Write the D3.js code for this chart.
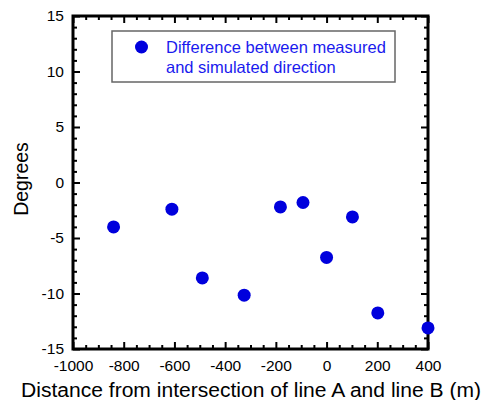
<!DOCTYPE html>
<html>
<head>
  <meta charset="utf-8">
  <style>
	body { margin: 0; background: white; }
	text { font-family: "Liberation Sans", Arial, sans-serif; }
  </style>
</head>
<body>
<div id="chart"></div>
<script src="https://d3js.org/d3.v7.min.js"></script>
<script>
	// distance from intersection (m) and angle difference (degrees)
	const distance = [-840, -610, -490, -325, -182, -93, 0, 102, 202, 400];
	const degrees = [-4.0, -2.4, -8.6, -10.15, -2.2, -1.8, -6.75, -3.1, -11.75, -13.1];
	const xTicks = [-1000, -800, -600, -400, -200, 0, 200, 400];
	const yTicks = [-15, -10, -5, 0, 5, 10, 15];
	const legendLines = ["Difference between measured", "and simulated direction"];

	const width = 484, height = 400;
	const margin = {left: 73, top: 16, right: 56, bottom: 51};

	const svg = d3.select('#chart').append('svg')
		.attr('width', width)
		.attr('height', height);

	const x = d3.scaleLinear().domain([-1000, 400]).range([margin.left, width - margin.right]);
	const y = d3.scaleLinear().domain([-15, 15]).range([height - margin.bottom, margin.top]);

	const minorX = d3.range(-1000, 401, 50).filter(v => v % 200 !== 0);
	const minorY = d3.range(-15, 16, 1).filter(v => v % 5 !== 0);
	const fmt = d => String(d);

	// axes with inward ticks
	const gBottom = svg.append('g').attr('transform', `translate(0,${y(-15)})`)
		.call(d3.axisBottom(x).tickValues(xTicks).tickSize(-7).tickPadding(11).tickFormat(fmt));
	gBottom.append('g').call(d3.axisBottom(x).tickValues(minorX).tickSize(-4).tickFormat(''));
	const gTop = svg.append('g').attr('transform', `translate(0,${y(15)})`)
		.call(d3.axisTop(x).tickValues(xTicks).tickSize(-7).tickFormat(''));
	gTop.append('g').call(d3.axisTop(x).tickValues(minorX).tickSize(-4).tickFormat(''));

	const gLeft = svg.append('g').attr('transform', `translate(${x(-1000)},0)`)
		.call(d3.axisLeft(y).tickValues(yTicks).tickSize(-7).tickPadding(9).tickFormat(fmt));
	gLeft.append('g').call(d3.axisLeft(y).tickValues(minorY).tickSize(-4).tickFormat(''));
	const gRight = svg.append('g').attr('transform', `translate(${x(400)},0)`)
		.call(d3.axisRight(y).tickValues(yTicks).tickSize(-7).tickFormat(''));
	gRight.append('g').call(d3.axisRight(y).tickValues(minorY).tickSize(-4).tickFormat(''));

	svg.selectAll('.domain').attr('stroke', 'none');
	svg.selectAll('.tick line').attr('stroke', 'black').attr('stroke-width', 2);
	svg.selectAll('.tick text').attr('font-size', 15.5).attr('fill', 'black')
		.attr('font-family', '"Liberation Sans", Arial, sans-serif');

	svg.append('rect')
		.attr('x', x(-1000)).attr('y', y(15))
		.attr('width', x(400) - x(-1000)).attr('height', y(-15) - y(15))
		.attr('fill', 'none').attr('stroke', 'black').attr('stroke-width', 3);

	// points
	svg.append('g').selectAll('circle')
		.data(distance)
		.enter()
		.append('circle')
		.attr('cx', d => x(d))
		.attr('cy', (d, i) => y(degrees[i]))
		.attr('r', 6.5)
		.attr('fill', '#0000dd');

	// legend
	const lg = svg.append('g');
	lg.append('rect')
		.attr('x', 112).attr('y', 31).attr('width', 283).attr('height', 51)
		.attr('fill', 'white').attr('stroke', '#666').attr('stroke-width', 1.5);
	lg.append('circle').attr('cx', 141.5).attr('cy', 47).attr('r', 6.5).attr('fill', '#0000dd');
	lg.selectAll('.lt')
		.data(legendLines)
		.enter()
		.append('text')
		.attr('x', 166)
		.attr('y', (d, i) => 53 + i * 19.5)
		.attr('font-size', 16.5)
		.attr('fill', '#1a1aee')
		.text(d => d);

	// axis titles
	svg.append('text')
		.attr('x', 21).attr('y', 397)
		.attr('font-size', 19.5)
		.attr('textLength', 460)
		.attr('lengthAdjust', 'spacingAndGlyphs')
		.text('Distance from intersection of line A and line B (m)');
	svg.append('text')
		.attr('transform', 'translate(28,179) rotate(-90)')
		.attr('text-anchor', 'middle')
		.attr('font-size', 19.5)
		.text('Degrees');
</script>
</body>
</html>
